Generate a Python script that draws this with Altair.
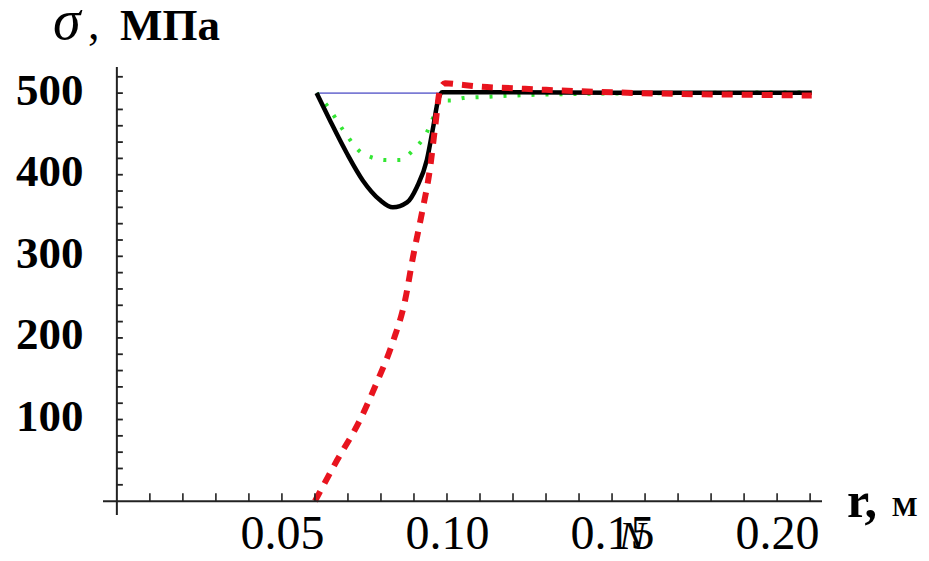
import altair as alt
import pandas as pd

# ---- data ----
r_black = [0.0605, 0.0645, 0.0697, 0.0745, 0.0797, 0.0836, 0.0879, 0.0909, 0.0939, 0.0958, 0.0973, 0.0985, 0.120, 0.150, 0.180, 0.2105]
s_black = [500, 467, 426, 393, 369, 360, 366, 385, 418, 458, 491, 501, 501, 500.5, 500.5, 500.5]

r_green = [0.0605, 0.0640, 0.0685, 0.0745, 0.0818, 0.0858, 0.0897, 0.0939, 0.0958, 0.0973, 0.0988, 0.101, 0.105, 0.110, 0.120, 0.140, 0.170, 0.2105]
s_green = [500, 483, 455, 426, 418, 418, 430, 452, 470, 488, 491, 491, 494, 495, 497, 499, 500, 501]

r_red = [0.0600, 0.0667, 0.0736, 0.0788, 0.0836, 0.0873, 0.0897, 0.0924, 0.0948, 0.0964, 0.0979, 0.0994, 0.105, 0.110, 0.120, 0.130, 0.150, 0.170, 0.190, 0.2105]
s_red = [0, 50, 99, 146, 195, 246, 299, 353, 406, 458, 504, 512, 510, 508, 506, 504, 501, 499, 498, 497]

r_blue = [0.0605, 0.2105]
s_blue = [500, 500]

x_labels = [0.05, 0.10, 0.15, 0.20]
y_labels = [100, 200, 300, 400, 500]
x_minor = [0.01, 0.02, 0.03, 0.04, 0.05, 0.06, 0.07, 0.08, 0.09, 0.10, 0.11,
           0.12, 0.13, 0.14, 0.15, 0.16, 0.17, 0.18, 0.19, 0.20, 0.21]
y_minor = [20, 40, 60, 80, 100, 120, 140, 160, 180, 200, 220, 240, 260, 280,
           300, 320, 340, 360, 380, 400, 420, 440, 460, 480, 500, 520]

x_lo, x_hi = -0.0042, 0.2136
y_lo, y_hi = -17, 532

xscale = alt.Scale(domain=[x_lo, x_hi], nice=False, zero=False)
yscale = alt.Scale(domain=[y_lo, y_hi], nice=False, zero=False)

xaxis = alt.Axis(values=x_labels, format=".2f", title=None, grid=False, domain=False,
                 ticks=False, tickSize=0, labelFont="Liberation Serif", labelFontSize=48,
                 labelFontWeight="normal", labelColor="black", labelPadding=33,
                 labelBaseline="alphabetic", labelFlush=False)
yaxis = alt.Axis(values=y_labels, format="d", title=None, grid=False, domain=False,
                 ticks=False, tickSize=0, labelFont="Liberation Serif", labelFontSize=45,
                 labelFontWeight="bold", labelColor="black", labelPadding=20,
                 labelBaseline="middle", labelOffset=-3, labelFlush=False)


def X(f):
    return alt.X(f, type="quantitative", scale=xscale, axis=xaxis)


def Y(f):
    return alt.Y(f, type="quantitative", scale=yscale, axis=yaxis)


def curve(rs, ss):
    return pd.DataFrame({"r": rs, "s": ss})


blue = alt.Chart(curve(r_blue, s_blue)).mark_line(color="#7b7bd4", strokeWidth=1.6).encode(
    x=X("r"), y=Y("s"))
green = alt.Chart(curve(r_green, s_green)).mark_line(
    color="#33e633", strokeWidth=4, strokeDash=[3, 11], interpolate="monotone").encode(
    x=X("r"), y=Y("s"))
black = alt.Chart(curve(r_black, s_black)).mark_line(
    color="black", strokeWidth=4.5, interpolate="monotone").encode(x=X("r"), y=Y("s"))
red = alt.Chart(curve(r_red, s_red)).mark_line(
    color="#e8141e", strokeWidth=6, strokeDash=[11, 9], interpolate="monotone").encode(
    x=X("r"), y=Y("s"))

dummy = pd.DataFrame({"a": [0]})
axis_color = "#222222"

x_axis_line = alt.Chart(dummy).mark_rule(color=axis_color, strokeWidth=2).encode(
    x=alt.XDatum(x_lo, scale=xscale, axis=xaxis),
    x2=alt.X2Datum(x_hi),
    y=alt.YDatum(0, scale=yscale, axis=yaxis))
y_axis_line = alt.Chart(dummy).mark_rule(color=axis_color, strokeWidth=2).encode(
    y=alt.YDatum(y_lo, scale=yscale, axis=yaxis),
    y2=alt.Y2Datum(y_hi),
    x=alt.XDatum(0, scale=xscale, axis=xaxis))

x_ticks = alt.Chart(pd.DataFrame({"t": x_minor})).mark_rule(
    color=axis_color, strokeWidth=1.6, y2Offset=-8).encode(
    x=X("t"), y=alt.YDatum(0, scale=yscale, axis=yaxis), y2=alt.Y2Datum(0))
y_ticks = alt.Chart(pd.DataFrame({"t": y_minor})).mark_rule(
    color=axis_color, strokeWidth=1.8, x2Offset=6).encode(
    y=Y("t"), x=alt.XDatum(0, scale=xscale, axis=xaxis), x2=alt.X2Datum(0))


def label(txt, px, py, size, weight="normal", style="normal"):
    return alt.Chart(dummy).mark_text(
        text=txt, font="Liberation Serif", fontSize=size, fontWeight=weight,
        fontStyle=style, align="left", baseline="alphabetic", color="black").encode(
        x=alt.value(px), y=alt.value(py))


sigma = label("σ", -50, -28, 56, style="italic")
comma = label(",", -15, -28, 46)
mpa = label("МПа", 17, -27, 45, weight="bold")
r_lab = label("r,", 744, 450, 50, weight="bold")
m_lab = label("М", 789, 449, 27, weight="bold")
n_mark = label("N", 516, 482, 40, style="italic")

chart = alt.layer(
    blue, green, black, red, x_axis_line, y_axis_line, x_ticks, y_ticks,
    sigma, comma, mpa, r_lab, m_lab, n_mark
).properties(
    width=719, height=448,
    autosize=alt.AutoSizeParams(type="none"),
    padding={"left": 95, "top": 59, "right": 98, "bottom": 38},
).configure_view(stroke=None)

chart.save("out.html", embed_options={"renderer": "svg", "actions": False})
